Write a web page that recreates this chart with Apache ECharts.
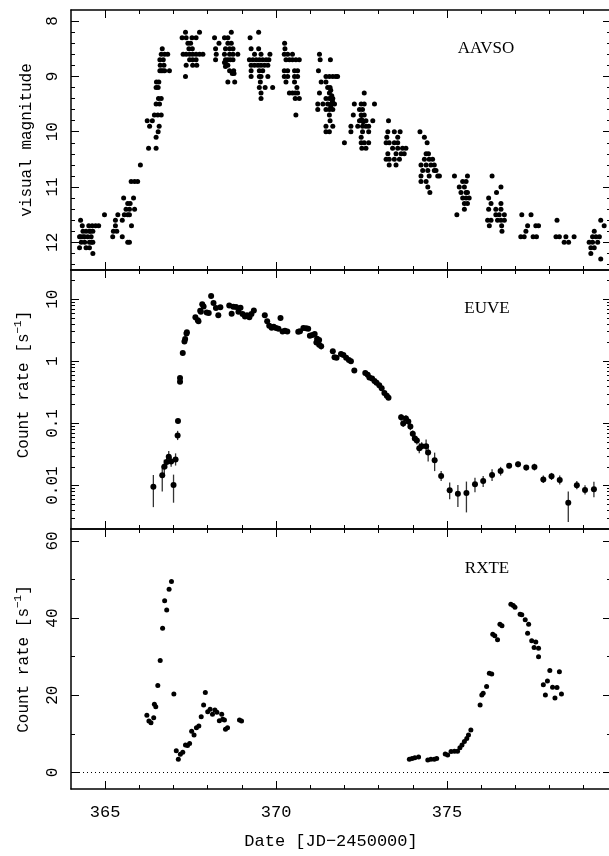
<!DOCTYPE html>
<html><head><meta charset="utf-8">
<script src="https://cdn.jsdelivr.net/npm/echarts@6/dist/echarts.min.js"></script>
<style>html,body{margin:0;padding:0;background:#fff}#c{width:609px;height:856px}</style>
</head><body><div id="c"></div>
<script>
// ---------- axis tick values ----------
const xTickMajor = [365, 370, 375];
const xTickMinor = [366, 367, 368, 369, 371, 372, 373, 374, 376, 377, 378, 379];
const magTickMajor = [8, 9, 10, 11, 12];
const magTickMinor = [8.2, 8.4, 8.6, 8.8, 9.2, 9.4, 9.6, 9.8, 10.2, 10.4, 10.6, 10.8, 11.2, 11.4, 11.6, 11.8, 12.2, 12.4];
const euveTickMajor = [0.01, 0.1, 1, 10];
const euveTickLabels = ['0.01', '0.1', '1', '10'];
const euveTickMinor = [0.003, 0.004, 0.005, 0.006, 0.007, 0.008, 0.009,
  0.02, 0.03, 0.04, 0.05, 0.06, 0.07, 0.08, 0.09,
  0.2, 0.3, 0.4, 0.5, 0.6, 0.7, 0.8, 0.9,
  2, 3, 4, 5, 6, 7, 8, 9, 20];
const rxteTickMajor = [0, 20, 40, 60];
const rxteTickMinor = [10, 30, 50];

// ---------- AAVSO visual magnitudes [day, mag] ----------
const aavso = [
  [364.28,11.6],[364.33,11.7],[364.52,11.7],[364.62,11.7],[364.72,11.7],[364.81,11.7],
  [364.35,11.8],[364.44,11.8],[364.54,11.8],[364.64,11.8],[364.57,11.8],
  [364.25,11.9],[364.35,11.9],[364.49,11.9],[364.59,11.9],[364.28,11.9],[364.40,11.9],
  [364.30,12.0],[364.40,12.0],[364.54,12.0],[364.64,12.0],[364.60,12.0],
  [364.25,12.1],[364.44,12.1],[364.54,12.1],[364.64,12.2],[364.98,11.5],
  [365.54,11.2],[365.83,11.2],[365.66,11.3],[365.73,11.3],[365.61,11.4],[365.71,11.4],[365.86,11.4],
  [365.37,11.5],[365.56,11.5],[365.66,11.5],[365.71,11.5],[365.30,11.6],[365.50,11.6],
  [365.30,11.7],[365.77,11.7],[365.24,11.8],[365.34,11.8],[365.22,11.9],[365.50,11.9],
  [365.66,12.0],[365.71,12.0],[365.76,10.9],[365.86,10.9],[365.95,10.9],[366.03,10.6],
  [366.27,10.3],[366.49,10.3],[366.49,10.1],[366.55,10.0],[366.30,9.9],[366.58,9.9],
  [366.23,9.8],[366.38,9.8],[366.44,9.7],[366.54,9.7],[366.64,9.7],[366.49,9.5],[366.59,9.5],
  [366.56,9.4],[366.64,9.4],[366.49,9.2],[366.55,9.2],[366.50,9.1],[366.57,9.1],
  [366.60,8.9],[366.64,8.9],[366.69,8.9],[366.74,8.9],[366.88,8.9],[366.61,8.8],[366.72,8.8],
  [366.60,8.7],[366.70,8.7],[366.64,8.6],[366.74,8.6],[366.83,8.6],[366.67,8.5],
  [367.35,8.2],[367.76,8.2],[367.25,8.3],[367.37,8.3],[367.54,8.3],[367.66,8.3],
  [367.42,8.4],[367.50,8.4],[367.45,8.5],[367.55,8.5],
  [367.28,8.6],[367.37,8.6],[367.47,8.6],[367.56,8.6],[367.66,8.6],[367.76,8.6],[367.86,8.6],
  [367.47,8.7],[367.56,8.7],[367.66,8.7],[367.37,8.8],[367.56,8.8],[367.68,8.8],[367.35,9.0],
  [368.69,8.2],[368.20,8.3],[368.49,8.3],[368.59,8.3],[368.33,8.4],[368.59,8.4],[368.69,8.4],
  [368.23,8.5],[368.52,8.5],[368.64,8.5],[368.74,8.5],
  [368.25,8.6],[368.49,8.6],[368.64,8.6],[368.74,8.6],[368.88,8.6],
  [368.23,8.7],[368.52,8.7],[368.59,8.7],[368.66,8.7],[368.74,8.7],
  [368.49,8.75],[368.54,8.78],[368.59,8.8],[368.52,8.82],[368.64,8.9],[368.76,8.9],
  [368.72,8.95],[368.77,8.95],[368.59,9.1],[368.79,9.1],
  [369.24,8.3],[369.49,8.2],[369.27,8.5],[369.49,8.5],[369.37,8.6],[369.56,8.6],[369.82,8.6],
  [369.22,8.7],[369.32,8.7],[369.42,8.7],[369.51,8.7],[369.61,8.7],[369.71,8.7],[369.79,8.7],
  [369.27,8.8],[369.37,8.8],[369.47,8.8],[369.56,8.8],[369.66,8.8],[369.76,8.8],
  [369.27,8.9],[369.51,8.9],[369.61,8.9],[369.27,9.0],[369.51,9.0],[369.56,9.0],[369.76,9.0],
  [369.54,9.1],[369.51,9.2],[369.68,9.2],[369.90,9.2],[369.56,9.3],[369.56,9.4],
  [370.25,8.4],[370.26,8.5],[370.24,8.6],[370.34,8.6],[370.48,8.6],
  [370.29,8.7],[370.39,8.7],[370.48,8.7],[370.58,8.7],[370.68,8.7],
  [370.24,8.9],[370.34,8.9],[370.54,8.9],[370.63,8.9],[370.24,9.0],[370.34,9.0],[370.54,9.0],[370.63,9.0],
  [370.29,9.1],[370.54,9.1],[370.61,9.2],[370.39,9.3],[370.48,9.3],[370.56,9.3],[370.63,9.3],
  [370.56,9.4],[370.68,9.4],[370.58,9.7],
  [371.27,8.6],[371.29,8.7],[371.24,8.9],[371.46,9.0],[371.56,9.0],[371.66,9.0],[371.75,9.0],[371.80,9.0],
  [371.32,9.1],[371.46,9.1],[371.51,9.2],[371.58,9.2],[371.27,9.3],[371.56,9.3],
  [371.46,9.4],[371.56,9.4],[371.66,9.4],[371.22,9.5],[371.37,9.5],[371.51,9.5],[371.61,9.5],[371.71,9.5],
  [371.22,9.6],[371.46,9.6],[371.56,9.6],[371.66,9.6],[371.56,9.7],[371.58,9.8],
  [371.46,9.9],[371.66,9.9],[371.46,10.0],[371.56,10.0],[371.59,8.7],
  [371.60,9.25],[371.63,9.35],[371.65,9.45],[371.60,9.55],[372.00,10.2],
  [372.58,9.3],[372.29,9.5],[372.49,9.5],[372.58,9.5],[372.88,9.5],[372.44,9.6],[372.53,9.6],
  [372.26,9.7],[372.49,9.7],[372.58,9.7],[372.44,9.8],[372.53,9.8],[372.63,9.8],[372.83,9.8],
  [372.50,9.78],[372.55,9.82],[372.19,9.9],[372.39,9.9],[372.53,9.9],[372.63,9.9],[372.71,9.9],
  [372.19,10.0],[372.53,10.0],[372.71,10.0],[372.49,10.1],[372.49,10.2],[372.58,10.2],[372.71,10.2],
  [372.51,10.3],[372.63,10.3],
  [373.29,9.8],[373.27,10.0],[373.46,10.0],[373.63,10.0],[373.24,10.1],[373.56,10.1],
  [373.22,10.2],[373.31,10.2],[373.46,10.2],[373.56,10.2],[373.41,10.3],[373.56,10.3],[373.70,10.3],[373.80,10.3],
  [373.27,10.4],[373.51,10.4],[373.66,10.4],[373.75,10.4],[373.22,10.5],[373.31,10.5],[373.46,10.5],[373.61,10.5],
  [373.31,10.6],[373.51,10.6],
  [374.21,10.0],[374.34,10.1],[374.42,10.2],[374.39,10.4],[374.46,10.4],[374.34,10.5],[374.48,10.5],[374.58,10.5],
  [374.24,10.6],[374.39,10.6],[374.53,10.6],[374.63,10.6],[374.29,10.7],[374.44,10.7],[374.63,10.7],[374.68,10.7],
  [374.24,10.8],[374.48,10.8],[374.73,10.8],[374.78,10.8],[374.24,10.9],[374.39,10.9],[374.44,11.0],[374.50,11.1],
  [375.22,10.8],[375.60,10.8],[375.46,10.9],[375.56,10.9],[375.36,11.0],[375.51,11.0],
  [375.41,11.1],[375.56,11.1],[375.60,11.1],[375.46,11.2],[375.56,11.2],[375.65,11.2],
  [375.51,11.3],[375.60,11.3],[375.51,11.4],[375.29,11.5],
  [376.32,10.8],[376.58,11.0],[376.45,11.1],[376.22,11.2],[376.29,11.3],[376.58,11.3],
  [376.22,11.4],[376.43,11.4],[376.58,11.4],[376.43,11.5],[376.53,11.5],[376.68,11.5],
  [376.19,11.6],[376.29,11.6],[376.48,11.6],[376.58,11.6],[376.68,11.6],[376.24,11.7],[376.60,11.7],[376.61,11.8],
  [377.19,11.5],[377.46,11.5],[377.36,11.7],[377.60,11.7],[377.68,11.7],[377.31,11.8],
  [377.16,11.9],[377.26,11.9],[377.52,11.9],[377.62,11.9],
  [378.22,11.6],[378.19,11.9],[378.29,11.9],[378.48,11.9],[378.72,11.9],[378.43,12.0],[378.56,12.0],
  [379.50,11.6],[379.60,11.7],[379.31,11.8],[379.26,11.9],[379.36,11.9],[379.46,11.9],
  [379.16,12.0],[379.26,12.0],[379.41,12.0],[379.21,12.1],[379.31,12.1],[379.21,12.2],[379.50,12.3]
];

// ---------- EUVE count rates [day, rate, errLow, errHigh] ----------
const euve = [
  [366.41,0.0096,0.0045,0.0148],[366.67,0.0146,0.008,0.0206],[366.73,0.020,0.015,0.026],
  [366.80,0.024,0.019,0.030],[366.86,0.029,0.023,0.036],[366.93,0.0243,0.020,0.029],
  [367.00,0.0102,0.0053,0.015],[367.06,0.0264,0.021,0.033],[367.12,0.064,0.054,0.076],
  [367.13,0.109,0.10,0.12],[367.19,0.47,null,null],[367.19,0.54,null,null],[367.27,1.36,null,null],
  [367.32,2.09,null,null],[367.34,2.29,null,null],[367.38,2.8,null,null],[367.39,2.95,null,null],
  [367.64,5.1,null,null],[367.71,4.6,null,null],[367.73,4.4,null,null],[367.78,6.5,null,null],
  [367.80,6.3,null,null],[367.84,8.3,null,null],[367.88,7.6,null,null],[367.97,6.1,null,null],
  [368.03,6.0,null,null],[368.10,11.3,null,null],[368.17,8.65,null,null],[368.24,7.2,null,null],
  [368.31,5.5,null,null],[368.37,7.4,null,null],[368.63,7.9,null,null],[368.70,5.83,null,null],
  [368.75,7.55,null,null],[368.83,7.5,null,null],[368.90,6.3,null,null],[368.96,7.3,null,null],
  [369.02,5.76,null,null],[369.09,5.27,null,null],[369.15,5.5,null,null],[369.22,5.1,null,null],
  [369.28,5.76,null,null],[369.35,6.6,null,null],[369.67,5.5,null,null],[369.74,4.4,null,null],
  [369.80,3.74,null,null],[369.87,3.47,null,null],[369.93,3.6,null,null],[370.00,3.45,null,null],
  [370.07,3.35,null,null],[370.13,4.98,null,null],[370.19,3.03,null,null],[370.26,3.1,null,null],
  [370.33,3.03,null,null],[370.65,3.0,null,null],[370.70,3.05,null,null],[370.80,3.45,null,null],
  [370.88,3.4,null,null],[370.94,3.35,null,null],[370.99,2.59,null,null],[371.06,2.65,null,null],
  [371.13,2.75,null,null],[371.18,2.0,null,null],[371.20,2.31,null,null],[371.26,2.2,null,null],
  [371.26,1.85,null,null],[371.32,1.75,1.55,1.95],
  [371.66,1.45,null,null],[371.71,1.16,null,null],[371.77,1.14,null,null],[371.90,1.31,null,null],
  [371.97,1.26,null,null],[372.05,1.14,null,null],[372.13,1.05,null,null],[372.19,1.0,null,null],
  [372.29,0.71,null,null],[372.61,0.65,null,null],[372.68,0.61,null,null],[372.73,0.55,null,null],
  [372.81,0.53,null,null],[372.88,0.48,null,null],[372.94,0.45,null,null],[373.02,0.41,null,null],
  [373.09,0.37,null,null],[373.17,0.31,null,null],[373.24,0.28,null,null],[373.29,0.26,null,null],
  [373.66,0.126,0.11,0.14],[373.72,0.10,0.088,0.115],[373.80,0.12,0.107,0.135],
  [373.87,0.107,0.095,0.12],[373.93,0.089,0.078,0.10],[374.00,0.068,0.06,0.077],
  [374.06,0.057,0.05,0.065],[374.12,0.053,0.046,0.061],[374.19,0.040,0.033,0.048],
  [374.26,0.043,0.037,0.05],[374.39,0.043,0.032,0.055],[374.45,0.034,0.0243,0.046],
  [374.64,0.0255,0.0171,0.0339],[374.83,0.0143,0.0119,0.0171],[375.08,0.0084,0.006,0.0112],
  [375.32,0.0074,0.0045,0.0102],[375.57,0.0076,0.0037,0.0116],[375.82,0.0105,0.0078,0.0134],
  [376.06,0.0119,0.0095,0.0143],[376.32,0.0148,0.0119,0.0183],[376.57,0.0171,0.0145,0.020],
  [376.82,0.0209,0.019,0.023],[377.08,0.022,0.0198,0.0245],[377.32,0.0195,0.0175,0.0215],
  [377.56,0.0199,0.0175,0.0225],[377.82,0.0125,0.011,0.0145],[378.06,0.0141,0.0123,0.016],
  [378.30,0.0123,0.0104,0.0145],[378.55,0.0053,0.0026,0.008],[378.80,0.0101,0.0087,0.0118],
  [379.04,0.0085,0.0072,0.0101],[379.30,0.0087,0.0065,0.0115]
];

// ---------- RXTE count rates [day, rate] ----------
const rxte = [
  [366.22,14.8],[366.28,13.3],[366.34,12.9],[366.42,14.2],[366.44,17.7],[366.48,17.0],
  [366.54,22.5],[366.61,29.0],[366.68,37.4],[366.74,44.5],[366.80,42.1],[366.87,47.5],
  [366.94,49.5],[367.01,20.3],[367.08,5.6],[367.14,3.4],[367.20,4.7],[367.27,5.2],
  [367.35,7.1],[367.41,7.0],[367.47,7.5],[367.53,10.7],[367.60,9.7],[367.67,11.6],
  [367.74,12.0],[367.81,14.4],[367.88,17.5],[367.93,20.7],[368.00,15.7],[368.07,16.4],
  [368.14,15.1],[368.21,16.2],[368.27,15.6],[368.34,13.4],[368.41,15.1],[368.44,13.8],
  [368.49,13.6],[368.52,11.2],[368.58,11.6],[368.93,13.6],[368.99,13.3],
  [373.90,3.4],[373.98,3.6],[374.06,3.8],[374.17,4.0],[374.44,3.2],[374.53,3.4],
  [374.63,3.4],[374.70,3.6],[374.95,4.8],[375.02,4.5],[375.12,5.4],[375.22,5.5],
  [375.31,5.5],[375.38,6.4],[375.44,7.1],[375.51,8.0],[375.58,8.8],[375.63,9.7],
  [375.70,11.0],[375.97,17.5],[376.02,20.1],[376.06,20.5],[376.16,22.3],[376.24,25.7],
  [376.31,25.5],[376.34,35.8],[376.40,35.4],[376.48,34.4],[376.55,38.4],[376.61,38.0],
  [376.87,43.6],[376.94,43.3],[376.99,42.8],[377.14,41.0],[377.19,40.9],[377.29,39.6],
  [377.39,38.4],[377.36,36.1],[377.48,34.1],[377.60,33.8],[377.55,32.4],[377.68,32.2],
  [377.68,30.0],[377.82,22.7],[377.88,20.1],[377.94,23.7],[378.01,26.4],[378.09,22.1],
  [378.22,22.0],[378.16,19.3],[378.29,26.1],[378.35,20.3]
];

// ---------- layout ----------
const X_MIN = 364, X_MAX = 379.8;
const MONO = 'Liberation Mono';
const SERIF = 'Liberation Serif';
const grids = [
  {left: 71, right: -2, top: 10, height: 260, outerBoundsMode: 'none'},
  {left: 71, right: -2, top: 270, height: 259, outerBoundsMode: 'none'},
  {left: 71, right: -2, top: 529, height: 260, outerBoundsMode: 'none'}
];
const yRanges = [
  {min: 7.8, max: 12.5, inverse: true},
  {min: 0.002, max: 29.5, inverse: false},
  {min: -4.3, max: 63.1, inverse: false}
];
const line = {show: true, onZero: false, lineStyle: {color: '#000', width: 1.5}};
const noLine = {show: false, onZero: false};
const tickStyle = {color: '#000', width: 1};

const xAxes = [], yAxes = [];
grids.forEach((gr, g) => {
  ['bottom', 'top'].forEach(pos => {
    const isLabelled = (g === 2 && pos === 'bottom');
    xAxes.push({
      type: 'value', gridIndex: g, position: pos, min: X_MIN, max: X_MAX,
      splitLine: {show: false}, axisLine: line,
      axisTick: {show: true, inside: true, length: 8, customValues: xTickMajor, lineStyle: tickStyle},
      axisLabel: isLabelled ? {show: true, customValues: xTickMajor, margin: 15, fontFamily: MONO, fontSize: 17, color: '#000'} : {show: false},
      name: isLabelled ? 'Date [JD\u22122450000]' : '',
      nameLocation: 'middle', nameGap: 44,
      nameTextStyle: {fontFamily: MONO, fontSize: 17, color: '#000', padding: [0, 20, 0, 0]}
    });
    xAxes.push({
      type: 'value', gridIndex: g, position: pos, min: X_MIN, max: X_MAX,
      splitLine: {show: false}, axisLine: noLine, axisLabel: {show: false},
      axisTick: {show: true, inside: true, length: 4, customValues: xTickMinor, lineStyle: tickStyle}
    });
  });
});

const yName = [
  'visual magnitude',
  '{a|Count rate [s}{b|\u22121}{a|]}',
  '{a|Count rate [s}{b|\u22121}{a|]}'
];
const yNamePad = [[0, 0, 0, 0], [0, 0, 0, 30], [0, 0, 0, 0]];
const richName = {
  a: {fontFamily: MONO, fontSize: 16, color: '#000', lineHeight: 22},
  b: {fontFamily: MONO, fontSize: 11, color: '#000', verticalAlign: 'top', lineHeight: 22, padding: [0, 0, 10, 0]}
};
const tickSpace = [
  {major: magTickMajor, minor: magTickMinor, conv: v => v, fmt: v => String(v)},
  {major: euveTickMajor.map(Math.log10), minor: euveTickMinor.map(Math.log10), conv: Math.log10,
   fmt: v => euveTickLabels[euveTickMajor.map(Math.log10).findIndex(t => Math.abs(t - v) < 1e-6)]},
  {major: rxteTickMajor, minor: rxteTickMinor, conv: v => v, fmt: v => String(v)}
];

grids.forEach((gr, g) => {
  const r = yRanges[g];
  const ts = tickSpace[g];
  // main data axis (carries the line and the name)
  yAxes.push({
    type: g === 1 ? 'log' : 'value', gridIndex: g, position: 'left',
    min: r.min, max: r.max, inverse: r.inverse,
    splitLine: {show: false}, axisLine: line, axisTick: {show: false}, axisLabel: {show: false},
    name: yName[g], nameLocation: 'middle', nameGap: 36,
    nameTextStyle: {fontFamily: MONO, fontSize: 16, color: '#000', padding: yNamePad[g], rich: richName}
  });
  const tmin = ts.conv(r.min), tmax = ts.conv(r.max);
  ['left', 'right'].forEach(pos => {
    yAxes.push({
      type: 'value', gridIndex: g, position: pos, min: tmin, max: tmax, inverse: r.inverse,
      splitLine: {show: false}, axisLine: pos === 'right' ? line : noLine,
      axisTick: {show: true, inside: true, length: 8, customValues: ts.major, lineStyle: tickStyle},
      axisLabel: pos === 'left' ? {show: true, customValues: ts.major, rotate: 90, margin: 10,
        fontFamily: MONO, fontSize: 16, color: '#000', formatter: ts.fmt} : {show: false}
    });
    yAxes.push({
      type: 'value', gridIndex: g, position: pos, min: tmin, max: tmax, inverse: r.inverse,
      splitLine: {show: false}, axisLine: noLine, axisLabel: {show: false},
      axisTick: {show: true, inside: true, length: 4, customValues: ts.minor, lineStyle: tickStyle}
    });
  });
});

const dot = {color: '#000', opacity: 1};
const chart = echarts.init(document.getElementById('c'), null, {renderer: 'canvas'});
chart.setOption({
  backgroundColor: '#fff',
  animation: false,
  grid: grids,
  xAxis: xAxes,
  yAxis: yAxes,
  graphic: [
    {type: 'text', x: 486, y: 49, style: {text: 'AAVSO', fontFamily: SERIF, fontSize: 17, fill: '#000', align: 'center', verticalAlign: 'middle'}},
    {type: 'text', x: 487, y: 309, style: {text: 'EUVE', fontFamily: SERIF, fontSize: 17, fill: '#000', align: 'center', verticalAlign: 'middle'}},
    {type: 'text', x: 487, y: 569, style: {text: 'RXTE', fontFamily: SERIF, fontSize: 17, fill: '#000', align: 'center', verticalAlign: 'middle'}}
  ],
  series: [
    {
      type: 'scatter', name: 'AAVSO', xAxisIndex: 0, yAxisIndex: 0,
      data: aavso, symbolSize: 5, itemStyle: dot, silent: true
    },
    {
      type: 'custom', name: 'EUVE errors', xAxisIndex: 4, yAxisIndex: 5,
      data: euve.filter(d => d[2] !== null).map(d => [d[0], d[2], d[3]]),
      renderItem: (params, api) => {
        const p1 = api.coord([api.value(0), api.value(1)]);
        const p2 = api.coord([api.value(0), api.value(2)]);
        return {type: 'line', shape: {x1: p1[0], y1: p1[1], x2: p2[0], y2: p2[1]},
          style: {stroke: '#333', lineWidth: 1.3}};
      },
      silent: true, z: 1
    },
    {
      type: 'scatter', name: 'EUVE', xAxisIndex: 4, yAxisIndex: 5,
      data: euve.map(d => [d[0], d[1]]), symbolSize: 6, itemStyle: dot, silent: true, z: 3
    },
    {
      type: 'scatter', name: 'RXTE', xAxisIndex: 8, yAxisIndex: 10,
      data: rxte, symbolSize: 5, itemStyle: dot, silent: true,
      markLine: {silent: true, symbol: 'none', label: {show: false},
        lineStyle: {color: '#000', type: [1, 3], width: 1}, data: [{yAxis: 0}]}
    }
  ]
});
</script>
</body></html>
